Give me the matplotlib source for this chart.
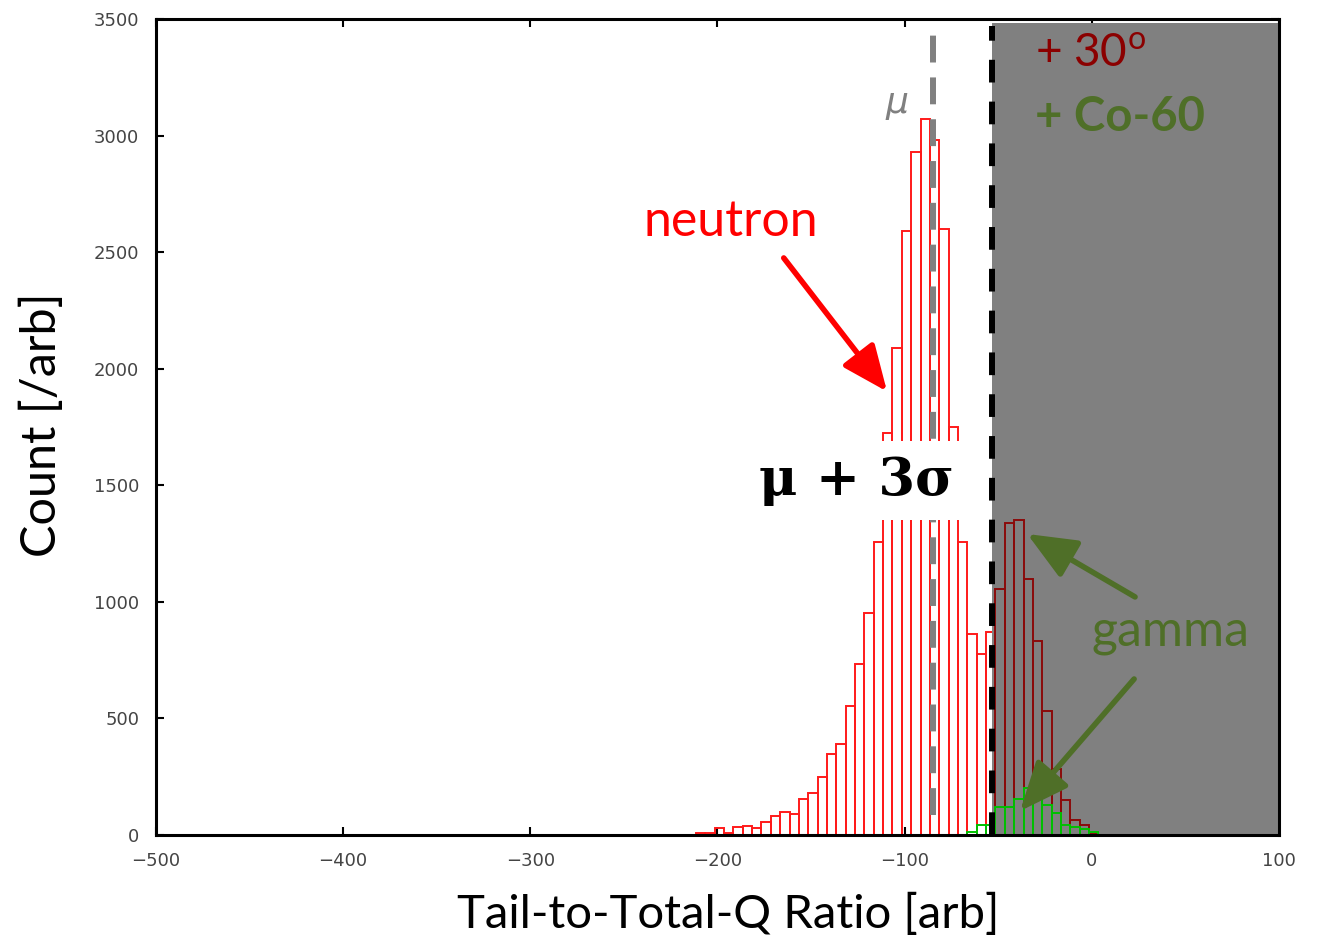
import numpy as np
import matplotlib.pyplot as plt

# histogram counts, 5-unit bins
bin_width = 5
neutron_start = -211.5
neutron_counts = [7, 7, 29, 10, 33, 39, 31, 56, 81, 99, 90, 153, 179, 247, 347, 390,
                  555, 732, 951, 1256, 1722, 2088, 2591, 2931, 3072, 2981, 2598, 1749,
                  1256, 862, 777, 872]
angle_start = -51.5
angle_counts = [1054, 1337, 1351, 1098, 834, 532, 283, 152, 64, 41, 8]
co60_start = -66.5
co60_counts = [14, 43, 43, 118, 118, 153, 200, 175, 129, 93, 42, 33, 24, 14]

mu = -85
cut = -53.3
x_ticks = [-500, -400, -300, -200, -100, 0, 100]
y_ticks = [0, 500, 1000, 1500, 2000, 2500, 3000, 3500]


def centers(start, counts):
    return start + bin_width * np.arange(len(counts)) + bin_width / 2


fig = plt.figure(figsize=(13.32, 9.44), dpi=100)
ax = fig.add_axes([0.1171, 0.1155, 0.8431, 0.8644])

# neutron histogram (red), then grey rejection region on top of it
ax.bar(centers(neutron_start, neutron_counts), neutron_counts, width=bin_width,
       fill=False, edgecolor='#ff1a1a', linewidth=1.4, zorder=2)
ax.axvspan(cut, 100, ymin=0, ymax=0.9946, color='#808080', lw=0, zorder=3)
ax.bar(centers(angle_start, angle_counts), angle_counts, width=bin_width,
       fill=False, edgecolor='#8b0a0a', linewidth=1.4, zorder=4)
ax.bar(centers(co60_start, co60_counts), co60_counts, width=bin_width,
       fill=False, edgecolor='#00c000', linewidth=1.4, zorder=4)

# mean and cut lines
ax.plot([mu, mu], [85, 3470], color='#808080', lw=4.3, dashes=(4.5, 2.5), zorder=5)
ax.plot([cut, cut], [0, 3470], color='black', lw=4.3, dashes=(3.8, 3.2), zorder=5)

ax.set_xlim(-500, 100)
ax.set_ylim(0, 3500)
ax.set_xticks(x_ticks)
ax.set_yticks(y_ticks)
ax.set_xticklabels([str(v).replace('-', '\u2212') for v in x_ticks])
ax.tick_params(direction='in', length=6, width=1.5, top=True, right=True,
               labelsize=13, labelcolor='#444444', pad=12)
for s in ax.spines.values():
    s.set_linewidth(2.2)
    s.set_zorder(6)

ann_font = ['Lato', 'DejaVu Sans']
fig.text(0.0315, 0.55, 'Count [/arb]', rotation=90, ha='center', va='center',
         fontsize=35, family=ann_font)
fig.text(0.5465, 0.031, 'Tail-to-Total-Q Ratio [arb]', ha='center', va='center',
         fontsize=34, family=ann_font)

# annotations
ax.text(-193, 2630, 'neutron', color='#ff0000', fontsize=36, family=ann_font,
        ha='center', va='center')
ax.annotate('', xy=(-109.4, 1902), xytext=(-164.6, 2475),
            arrowprops=dict(arrowstyle='-|>,head_length=0.7,head_width=0.3',
                            mutation_scale=40, lw=4, color='#ff0000',
                            shrinkA=0, shrinkB=0), zorder=7)
ax.text(-103.9, 3140, '\u03bc', color='#808080', fontsize=26, style='italic',
        family=['DejaVu Sans'], ha='center', va='center')
ax.text(-30.3, 3350, '+ 30$^\\mathregular{o}$', color='#8b0000', fontsize=33,
        family=ann_font, ha='left', va='center', zorder=7)
ax.text(-30.3, 3080, '+ Co-60', color='#4f6f28', fontsize=34, weight='bold',
        family=ann_font, ha='left', va='center', zorder=7)
ax.text(41.8, 871, 'gamma', color='#4f6f28', fontsize=36, family=ann_font,
        ha='center', va='center', zorder=7)
for tail, tip in [((23.1, 1021), (-34.5, 1291)), ((22.6, 669), (-38.3, 103))]:
    ax.annotate('', xy=tip, xytext=tail,
                arrowprops=dict(arrowstyle='-|>,head_length=0.75,head_width=0.32',
                                mutation_scale=40, lw=4, color='#4f6f28',
                                shrinkA=0, shrinkB=0), zorder=7)

ax.text(-125.5, 1520, '\u03bc + 3\u03c3', fontsize=38, weight='bold',
        family=['DejaVu Serif'], ha='center', va='center', zorder=8,
        bbox=dict(boxstyle='square,pad=0.26', facecolor='white', edgecolor='none'))

fig.savefig('out.png', dpi=100, facecolor='white')
